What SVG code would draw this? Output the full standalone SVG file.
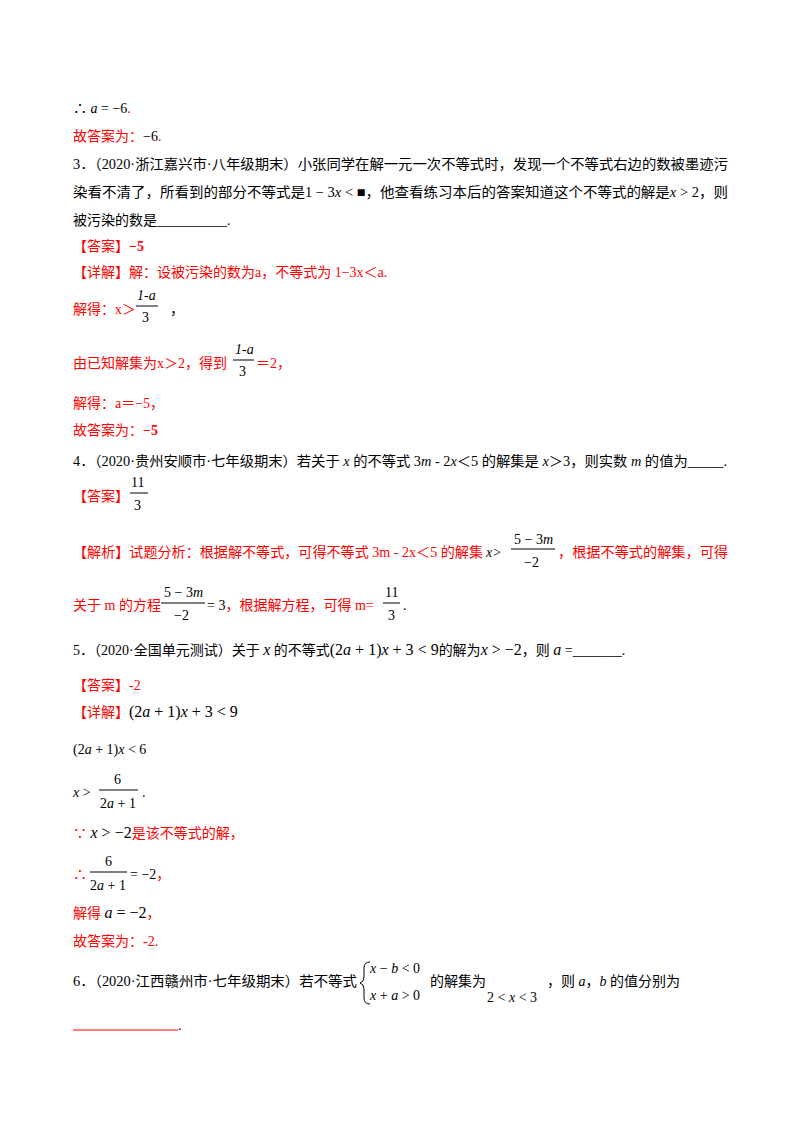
<svg xmlns="http://www.w3.org/2000/svg" width="800" height="1132" viewBox="0 0 800 1132">
<style>
text{font-family:'Liberation Serif','DejaVu Serif','Noto Sans CJK SC',serif;font-size:14px;fill:#000}
.r{fill:#ff0000}
.i{font-style:italic}
.b{font-weight:bold}
line{stroke:#000;stroke-width:1}
.rl{stroke:#ff0000}
</style>
<rect width="800" height="1132" fill="#fff"/>
<text x="73" y="113">∴ <tspan class="i">a</tspan> = −6<tspan class="r">.</tspan></text>
<text x="73" y="141" class="r">故答案为：<tspan fill="#000">−6</tspan>.</text>
<text x="73" y="169" textLength="655" lengthAdjust="spacingAndGlyphs">3．（2020·浙江嘉兴市·八年级期末）小张同学在解一元一次不等式时，发现一个不等式右边的数被墨迹污</text>
<text x="73" y="197" textLength="655" lengthAdjust="spacingAndGlyphs">染看不清了，所看到的部分不等式是1 − 3<tspan class="i">x</tspan> &lt; ■，他查看练习本后的答案知道这个不等式的解是<tspan class="i">x</tspan> &gt; 2，则</text>
<text x="73" y="225">被污染的数是__________.</text>
<text x="73" y="251" class="r">【答案】<tspan class="b">−5</tspan></text>
<text x="73" y="277" class="r">【详解】解：设被污染的数为a，不等式为 1−3x＜a.</text>
<text x="73" y="314" class="r">解得：x＞</text>
<text x="137" y="300" class="i">1-a</text><line x1="136" y1="306" x2="158" y2="306"/><text x="142" y="322">3</text>
<text x="170" y="314">，</text>
<text x="73" y="368" class="r">由已知解集为x＞2，得到</text>
<text x="235" y="354" class="i">1-a</text><line x1="233" y1="360" x2="254" y2="360"/><text x="239" y="376">3</text>
<text x="256" y="368" class="r">＝2，</text>
<text x="73" y="408" class="r">解得：a＝−5，</text>
<text x="73" y="435" class="r">故答案为：<tspan class="b">−5</tspan></text>
<text x="73" y="466" textLength="654" lengthAdjust="spacingAndGlyphs">4．（2020·贵州安顺市·七年级期末）若关于 <tspan class="i">x</tspan> 的不等式 3<tspan class="i">m</tspan> ‐ 2<tspan class="i">x</tspan>＜5 的解集是 <tspan class="i">x</tspan>＞3，则实数 <tspan class="i">m</tspan> 的值为_____.</text>
<text x="73" y="501" class="r">【答案】</text>
<text x="131" y="487">11</text><line x1="130" y1="493" x2="148" y2="493"/><text x="134" y="510">3</text>
<text x="73" y="557" class="r" textLength="410" lengthAdjust="spacingAndGlyphs">【解析】试题分析：根据解不等式，可得不等式 3m ‐ 2x＜5 的解集</text>
<text x="486" y="557" class="i">x&gt;</text>
<text x="514" y="544">5 − 3<tspan class="i">m</tspan></text><line x1="511" y1="549" x2="555" y2="549"/><text x="524" y="567">−2</text>
<text x="558" y="557" class="r" textLength="170" lengthAdjust="spacingAndGlyphs">，根据不等式的解集，可得</text>
<text x="73" y="610" class="r">关于 m 的方程</text>
<text x="164" y="597">5 − 3<tspan class="i">m</tspan></text><line x1="161" y1="603" x2="205" y2="603"/><text x="174" y="620">−2</text>
<text x="207" y="610">= 3<tspan class="r">，根据解方程，可得 m=</tspan></text>
<text x="385" y="597">11</text><line x1="383" y1="603" x2="400" y2="603"/><text x="388" y="620">3</text>
<text x="403" y="610">.</text>
<text x="73" y="655">5．（2020·全国单元测试）关于 <tspan class="i" font-size="16">x</tspan> 的不等式<tspan font-size="16">(2<tspan class="i">a</tspan> + 1)<tspan class="i">x</tspan> + 3 &lt; 9</tspan>的解为<tspan font-size="16"><tspan class="i">x</tspan> &gt; −2</tspan>，则 <tspan class="i" font-size="16">a</tspan> =_______.</text>
<text x="73" y="690" class="r">【答案】-2</text>
<text x="73" y="717"><tspan class="r">【详解】</tspan><tspan font-size="16">(2<tspan class="i">a</tspan> + 1)<tspan class="i">x</tspan> + 3 &lt; 9</tspan></text>
<text x="73" y="754" font-size="16">(2<tspan class="i">a</tspan> + 1)<tspan class="i">x</tspan> &lt; 6</text>
<text x="73" y="797" font-size="16"><tspan class="i">x</tspan> &gt;</text>
<text x="114" y="784" font-size="16">6</text><line x1="99" y1="790" x2="138" y2="790"/><text x="100" y="808" font-size="16">2<tspan class="i">a</tspan> + 1</text>
<text x="142" y="797">.</text>
<text x="73" y="838"><tspan class="r">∵ </tspan><tspan font-size="16"><tspan class="i">x</tspan> &gt; −2</tspan><tspan class="r">是该不等式的解，</tspan></text>
<text x="73" y="879" class="r" font-size="16">∴</text>
<text x="105" y="866" font-size="16">6</text><line x1="90" y1="872" x2="127" y2="872"/><text x="90" y="890" font-size="16">2<tspan class="i">a</tspan> + 1</text>
<text x="130" y="879" font-size="16">= −2<tspan class="r" font-size="14">，</tspan></text>
<text x="73" y="918" class="r">解得 <tspan fill="#000" font-size="16"><tspan class="i">a</tspan> = −2</tspan>，</text>
<text x="73" y="946" class="r">故答案为：-2.</text>
<text x="73" y="986" textLength="284" lengthAdjust="spacingAndGlyphs">6．（2020·江西赣州市·七年级期末）若不等式</text>
<path d="M370 962 Q364 962 364 968 L364 977 Q364 982 360 983 Q364 984 364 989 L364 998 Q364 1004 370 1004" fill="none" stroke="#000" stroke-width="1"/>
<text x="370" y="973" font-size="16"><tspan class="i">x</tspan> − <tspan class="i">b</tspan> &lt; 0</text>
<text x="370" y="1000" font-size="16"><tspan class="i">x</tspan> + <tspan class="i">a</tspan> &gt; 0</text>
<text x="430" y="986">的解集为</text>
<text x="487" y="1002" font-size="16">2 &lt; <tspan class="i">x</tspan> &lt; 3</text>
<text x="547" y="986">，则 <tspan class="i">a</tspan>，<tspan class="i">b</tspan> 的值分别为</text>
<line x1="73" y1="1030" x2="178" y2="1030" class="rl"/>
<text x="178" y="1030">.</text>
</svg>
